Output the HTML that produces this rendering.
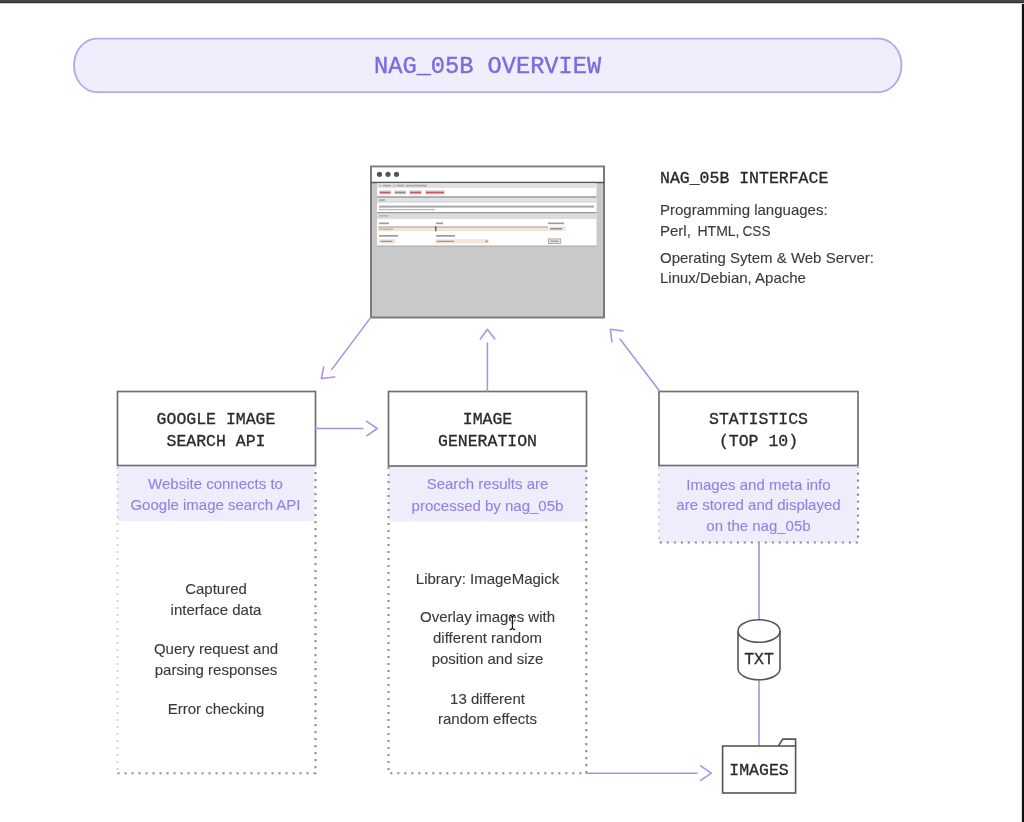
<!DOCTYPE html>
<html>
<head>
<meta charset="utf-8">
<style>
html,body{margin:0;padding:0;background:#fff;}
body{width:1024px;height:822px;overflow:hidden;position:relative;}
svg{position:absolute;left:0;top:0;filter:blur(0.4px);}
.mono{font-family:"Liberation Mono",monospace;}
.sans{font-family:"Liberation Sans",sans-serif;}
</style>
</head>
<body>
<svg width="1024" height="822" viewBox="0 0 1024 822">
  <!-- frame -->
  <rect x="1021" y="0" width="1" height="822" fill="#d8d8d8"/><rect x="1022" y="0" width="2" height="822" fill="#111"/>
  <rect x="0" y="0" width="1024" height="2" fill="#464646"/><rect x="0" y="2" width="1024" height="1" fill="#2c2c2c"/><rect x="0" y="3" width="1024" height="1" fill="#d4d4d4"/>
  

  <!-- title pill -->
  <rect x="74" y="38.6" width="827.5" height="53.5" rx="23" ry="26.75" fill="#eeeefc" stroke="#b9a5ec" stroke-width="1.8"/>
  <text class="mono" x="487.6" y="73.4" text-anchor="middle" font-size="23.65" fill="#8068de" stroke="#8068de" stroke-width="0.4">NAG_05B OVERVIEW</text>

  <!-- browser mockup -->
  <g id="browser">
    <rect x="371" y="166.5" width="233" height="151" fill="#c9c9c9" stroke="#7a7a7a" stroke-width="2"/>
    <rect x="372" y="167.5" width="231" height="14.5" fill="#fff"/>
    <line x1="371" y1="182.5" x2="604" y2="182.5" stroke="#555" stroke-width="1.5"/>
    <circle cx="379.5" cy="174.3" r="2.6" fill="#555"/>
    <circle cx="388" cy="174.3" r="2.6" fill="#555"/>
    <circle cx="396.5" cy="174.3" r="2.6" fill="#555"/>
    <!-- panels -->
    <rect x="377" y="183.5" width="219.5" height="62.5" fill="#fff"/>
    <rect x="377" y="183.5" width="219.5" height="4.5" fill="#e0e0e0"/>
    <rect x="377" y="197.5" width="219.5" height="5.5" fill="#e2e2e2"/>
    <rect x="377" y="213" width="219.5" height="6" fill="#dcdcdc"/>
    <line x1="377" y1="197" x2="596.5" y2="197" stroke="#9a9a9a" stroke-width="1.3"/>
    <line x1="377" y1="212.6" x2="596.5" y2="212.6" stroke="#9a9a9a" stroke-width="1.3"/>
    <line x1="377" y1="246" x2="596.5" y2="246" stroke="#a8a8a8" stroke-width="1"/>
    <line x1="377" y1="201.5" x2="596.5" y2="201.5" stroke="#cfcfcf" stroke-width="0.8" stroke-dasharray="1 1"/>
    <!-- breadcrumb -->
    <rect x="379" y="185" width="3" height="1.3" fill="#b8b8b8"/>
    <rect x="383" y="184.8" width="8" height="1.6" fill="#a8a8a8"/>
    <rect x="393" y="185" width="3" height="1.3" fill="#b8b8b8"/>
    <rect x="397" y="184.8" width="7" height="1.6" fill="#a8a8a8"/>
    <rect x="406" y="184.8" width="21" height="1.6" fill="#a8a8a8"/>
    <!-- buttons -->
    <rect x="379" y="190" width="12.5" height="4.8" fill="#efdede"/>
    <rect x="380" y="191.6" width="10.5" height="1.8" fill="#c05a5a"/>
    <rect x="394" y="190" width="12.5" height="4.8" fill="#e8e8e8"/>
    <rect x="395" y="191.6" width="10.5" height="1.8" fill="#8a8a8a"/>
    <rect x="409" y="190" width="13" height="4.8" fill="#efdede"/>
    <rect x="410" y="191.6" width="11" height="1.8" fill="#c05a5a"/>
    <rect x="425" y="190" width="20" height="4.8" fill="#efdede"/>
    <rect x="426" y="191.6" width="18" height="1.8" fill="#c05a5a"/>
    <!-- info -->
    <rect x="379" y="199.3" width="6" height="1.6" fill="#a8a8a8"/>
    <rect x="379" y="205.6" width="215" height="2" fill="#a6a6a6"/>
    <rect x="379" y="208.9" width="56" height="1.4" fill="#bdbdbd"/>
    <!-- query -->
    <rect x="379" y="215" width="9" height="1.6" fill="#b5b5b5"/>
    <rect x="379" y="222.5" width="10" height="1.7" fill="#9c9c9c"/>
    <rect x="436" y="222.5" width="7" height="1.7" fill="#9c9c9c"/>
    <rect x="548" y="222.5" width="16" height="1.7" fill="#9c9c9c"/>
    <rect x="378" y="226.6" width="170" height="4.6" fill="#f4e4d6"/>
    <line x1="378" y1="227" x2="548" y2="227" stroke="#9a8a7c" stroke-width="0.8"/>
    <rect x="379" y="228.5" width="14" height="1.4" fill="#c2b2a2"/>
    <rect x="435.2" y="226.3" width="1.2" height="5" fill="#444"/>
    <rect x="548.5" y="226.3" width="17" height="4.8" fill="#f0e6dc"/>
    <rect x="550" y="228" width="12" height="1.5" fill="#8f8f8f"/>
    <rect x="379" y="235" width="19" height="1.7" fill="#9c9c9c"/>
    <rect x="436" y="235" width="19" height="1.7" fill="#9c9c9c"/>
    <rect x="378.5" y="239.2" width="17" height="4.2" fill="#f1e6dc"/>
    <rect x="380.5" y="240.7" width="12" height="1.4" fill="#9a9a9a"/>
    <rect x="435" y="239.2" width="54" height="4.2" fill="#f4e6da"/>
    <rect x="437" y="240.7" width="17" height="1.4" fill="#a29a92"/>
    <rect x="485.5" y="240.5" width="2.2" height="1.8" fill="#999"/>
    <rect x="548.5" y="238.9" width="12.3" height="4.7" fill="#ece4dc" stroke="#9a928a" stroke-width="0.7"/>
    <rect x="550.5" y="240.6" width="8" height="1.3" fill="#a09890"/>
  </g>

  <!-- right info text -->
  <text class="mono" x="660" y="183.2" font-size="16.5" fill="#262626" stroke="#262626" stroke-width="0.3">NAG_05B INTERFACE</text>
  <g class="sans" font-size="15" fill="#3a3a3a" stroke="#3a3a3a" stroke-width="0.12">
    <text x="660" y="214.8">Programming languages:</text>
    <text x="660" y="236.1">Perl,</text><text x="697.5" y="236.1" textLength="42" lengthAdjust="spacingAndGlyphs">HTML,</text><text x="742.5" y="236.1" textLength="28" lengthAdjust="spacingAndGlyphs">CSS</text>
    <text x="660" y="263">Operating Sytem &amp; Web Server:</text>
    <text x="660" y="282.7">Linux/Debian, Apache</text>
  </g>

  <!-- lavender bands -->
  <rect x="117.5" y="466" width="197" height="55" fill="#ededfb"/>
  <rect x="388.5" y="466" width="198" height="55.5" fill="#ededfb"/>
  <rect x="659" y="466" width="198" height="76.5" fill="#ededfb"/>

  <!-- dotted borders -->
  <g stroke="#8f8f8f" stroke-width="2.1" stroke-dasharray="2.1 4.9" fill="none">
    <path d="M117.5 773.2 H315.5 V467"/>
    <path d="M388.5 467 V773.2 H586.3 V467"/>
    <path d="M659.8 542.5 H858 V467"/>
  </g>
  <g stroke="#d4d4d4" stroke-width="2.1" stroke-dasharray="2.1 4.9" fill="none">
    <path d="M117.5 467 V773.2"/>
    <path d="M659 467 V542.5"/>
  </g>
  <!-- boxes -->
  <g fill="#fff" stroke="#707070" stroke-width="1.7">
    <rect x="117.5" y="391.5" width="198" height="74"/>
    <rect x="388.5" y="391.5" width="198" height="74.5"/>
    <rect x="659" y="391.5" width="199" height="74"/>
  </g>

  <!-- box titles -->
  <g class="mono" font-size="16.5" fill="#2a2a2a" stroke="#2a2a2a" stroke-width="0.3" text-anchor="middle">
    <text x="216" y="424.3">GOOGLE IMAGE</text>
    <text x="216" y="445.5">SEARCH API</text>
    <text x="487.5" y="424.4">IMAGE</text>
    <text x="487.5" y="445.6">GENERATION</text>
    <text x="758.5" y="424.4">STATISTICS</text>
    <text x="758.5" y="445.5">(TOP 10)</text>
  </g>

  <!-- lavender descriptions -->
  <g class="sans" font-size="15" fill="#9680e4" stroke="#9680e4" stroke-width="0.12" text-anchor="middle">
    <text x="215.5" y="489">Website connects to</text>
    <text x="215.5" y="510">Google image search API</text>
    <text x="487.5" y="489">Search results are</text>
    <text x="487.5" y="510.6">processed by nag_05b</text>
    <text x="758.5" y="489.9">Images and meta info</text>
    <text x="758.5" y="510.4">are stored and displayed</text>
    <text x="758.5" y="531">on the nag_05b</text>
  </g>

  <!-- lower descriptions -->
  <g class="sans" font-size="15" fill="#3a3a3a" stroke="#3a3a3a" stroke-width="0.12" text-anchor="middle">
    <text x="216" y="594">Captured</text>
    <text x="216" y="614.8">interface data</text>
    <text x="216" y="654.2">Query request and</text>
    <text x="216" y="675">parsing responses</text>
    <text x="216" y="713.8">Error checking</text>
    <text x="487.5" y="583.6">Library: ImageMagick</text>
    <text x="487.5" y="622">Overlay images with</text>
    <text x="487.5" y="642.7">different random</text>
    <text x="487.5" y="664">position and size</text>
    <text x="487.5" y="703.5">13 different</text>
    <text x="487.5" y="723.7">random effects</text>
  </g>

  <!-- I-beam cursor -->
  <path d="M509.8 615.4 Q512.4 615.8 512.4 618 V627.3 Q512.4 629.3 509.6 629.8 M515.0 615.4 Q512.4 615.8 512.4 618 M512.4 627.3 Q512.4 629.3 515.2 629.8 M510.8 623 H514" stroke="#fff" stroke-width="2.6" fill="none" opacity="0.85"/><path d="M509.8 615.4 Q512.4 615.8 512.4 618 V627.3 Q512.4 629.3 509.6 629.8 M515.0 615.4 Q512.4 615.8 512.4 618 M512.4 627.3 Q512.4 629.3 515.2 629.8 M511.4 623 H513.4" stroke="#111" stroke-width="1.1" fill="none"/>
  <!-- arrows -->
  <g stroke="#a893e6" stroke-width="1.55" fill="none" stroke-linecap="round" stroke-linejoin="round">
    <line x1="370.6" y1="317.6" x2="331.6" y2="369.6"/>
    <polyline points="323.7,366.9 321.3,378.5 334.7,376.9"/>
    <line x1="315.5" y1="428.5" x2="362.7" y2="428.5"/>
    <polyline points="366.7,421.3 377.2,428.5 366.7,435.8"/>
    <line x1="487.4" y1="391" x2="487.4" y2="342.9"/>
    <polyline points="480.3,339 487.4,329.2 494.8,339"/>
    <line x1="659.5" y1="391" x2="620" y2="339"/>
    <polyline points="611.9,341.8 610.3,329.2 622.9,331"/>
    <line x1="586.3" y1="773.2" x2="697.2" y2="773.2"/>
    <polyline points="700.7,765.9 711.3,773.2 700.7,780.4"/>
  </g>
  <g stroke="#b8a6ea" stroke-width="2" fill="none">
    <line x1="759" y1="543" x2="759" y2="620"/>
    <line x1="759" y1="680" x2="759" y2="746"/>
  </g>

  <!-- TXT cylinder -->
  <g stroke="#555" stroke-width="1.6" fill="#fff">
    <path d="M738 631 V668.5 A21 11.3 0 0 0 780 668.5 V631"/>
    <ellipse cx="759" cy="631" rx="21" ry="11.3"/>
  </g>
  <text class="mono" x="759" y="663.9" text-anchor="middle" font-size="16.5" fill="#2a2a2a" stroke="#2a2a2a" stroke-width="0.3">TXT</text>

  <!-- IMAGES folder -->
  <g stroke="#555" stroke-width="1.6" fill="#fff" stroke-linejoin="miter">
    <path d="M778.4 746 L782.7 739.1 H795.6 V746"/>
    <rect x="722.6" y="746" width="73" height="47"/>
  </g>
  <text class="mono" x="759" y="774.6" text-anchor="middle" font-size="16.5" fill="#2a2a2a" stroke="#2a2a2a" stroke-width="0.3">IMAGES</text>
</svg>
</body>
</html>
